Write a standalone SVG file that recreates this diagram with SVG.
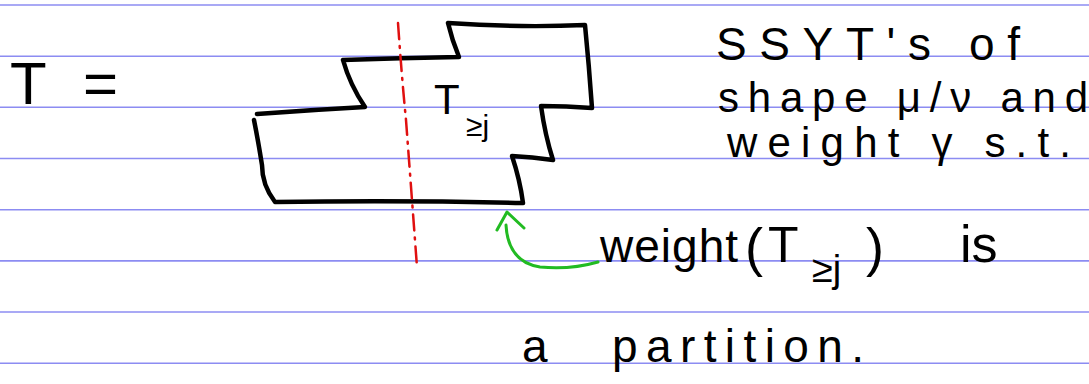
<svg xmlns="http://www.w3.org/2000/svg" width="1089" height="384" viewBox="0 0 1089 384">
<style>
.rule{stroke:#8c8cf2;stroke-width:1.6}
.ink{fill:none;stroke:#000;stroke-width:4.5;stroke-linecap:round;stroke-linejoin:round}
.hw{font-family:"Liberation Sans","DejaVu Sans",sans-serif;fill:#000}
.red{fill:none;stroke:#e01010;stroke-width:2.5;stroke-linecap:round;stroke-dasharray:16 7 2 7}
.green{fill:none;stroke:#22bb22;stroke-width:3;stroke-linecap:round;stroke-linejoin:round}
</style>
<rect width="1089" height="384" fill="#fff"/>
<g id="paper">
<line class="rule" x1="0" y1="5" x2="1089" y2="5"/>
<line class="rule" x1="0" y1="56.2" x2="1089" y2="56.2"/>
<line class="rule" x1="0" y1="107.3" x2="1089" y2="107.3"/>
<line class="rule" x1="0" y1="158.5" x2="1089" y2="158.5"/>
<line class="rule" x1="0" y1="209.7" x2="1089" y2="209.7"/>
<line class="rule" x1="0" y1="260.9" x2="1089" y2="260.9"/>
<line class="rule" x1="0" y1="312" x2="1089" y2="312"/>
<line class="rule" x1="0" y1="363.2" x2="1089" y2="363.2"/>
</g>
<g id="lhs">
<text class="hw" x="10" y="104" font-size="60" textLength="108" lengthAdjust="spacing">T =</text>
</g>
<g id="tableau">
<path class="ink" d="M257,114 Q310,110 365,107 Q350,85 343,60 Q400,58 459,57 Q452,40 448,23 Q520,28 585,25 Q589,65 592,108 Q566,106 541,106 Q545,135 553,160 Q532,157 512,156 Q520,180 523,203 Q400,200 275,202 Q262,185 262,165 Q258,140 254,120"/>
<text class="hw" x="434" y="114" font-size="42">T</text>
<text class="hw" x="466" y="136" font-size="30">≥j</text>
</g>
<g id="connectors">
<path class="red" d="M398,23 Q402,80 406,120 Q412,200 417,267"/>
<path class="green" d="M598,262 Q570,270 540,267 Q508,262 506,225"/>
<path class="green" d="M497,230 L507,212 L524,228"/>
</g>
<g id="desc">
<text class="hw" x="716" y="60" font-size="46" textLength="304" lengthAdjust="spacing">SSYT's of</text>
<text class="hw" x="718" y="112" font-size="42" textLength="370" lengthAdjust="spacing">shape μ/ν and</text>
<text class="hw" x="727" y="157" font-size="42" textLength="344" lengthAdjust="spacing">weight γ s.t.</text>
</g>
<g id="note">
<text class="hw" x="600" y="262" font-size="46" textLength="138" lengthAdjust="spacing">weight</text>
<text class="hw" x="745" y="266" font-size="54">(</text>
<text class="hw" x="768" y="262" font-size="50">T</text>
<text class="hw" x="812" y="282" font-size="38">≥j</text>
<text class="hw" x="866" y="266" font-size="54">)</text>
<text class="hw" x="960" y="262" font-size="52">is</text>
<text class="hw" x="522" y="362" font-size="46">a</text>
<text class="hw" x="612" y="362" font-size="46" textLength="252" lengthAdjust="spacing">partition.</text>
</g>
</svg>
